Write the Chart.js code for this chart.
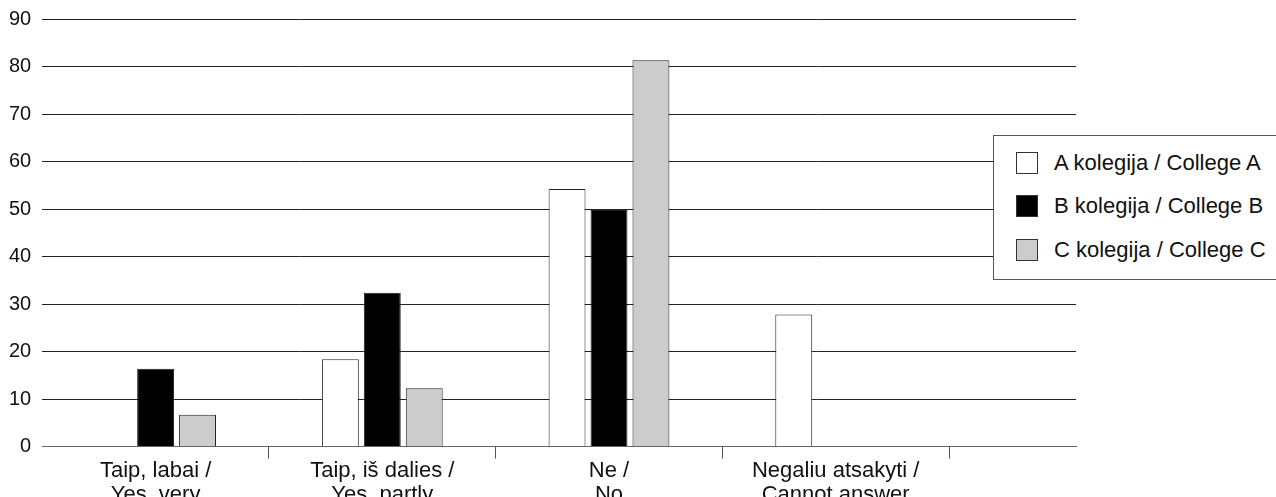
<!DOCTYPE html>
<html lang="lt">
<head>
  <meta charset="UTF-8" />
  <title>Kolegijos</title>
  <script src="https://cdn.jsdelivr.net/npm/chart.js"></script>
  <style>
    * { box-sizing: border-box; margin: 0; padding: 0; }
    body { background: #fff; width: 1276px; height: 497px; overflow: hidden; position: relative; font-family: 'Liberation Sans', Arial, sans-serif; }
    #wrap { position: absolute; left: 0; top: 0; width: 1276px; height: 507px; }
    #legend {
      position: absolute; left: 993px; top: 135px; width: 300px; height: 145px;
      background: #fff; border: 1px solid #555; padding-top: 5px;
    }
    .item { display: flex; align-items: center; height: 43.5px; padding-left: 22px; font-size: 22px; color: #111; }
    .sw { width: 22px; height: 22px; border: 1px solid #333; margin-right: 16px; }
  </style>
</head>
<body>
  <div id="wrap"><canvas id="chart"></canvas></div>
  <div id="legend"></div>

  <script>
    // duomenys (nuskaityti nuo paveikslo)
    const categories = [
      ['Taip, labai /', 'Yes, very'],
      ['Taip, iš dalies /', 'Yes, partly'],
      ['Ne /', 'No'],
      ['Negaliu atsakyti /', 'Cannot answer']
    ];
    const seriesNames = ['A kolegija / College A', 'B kolegija / College B', 'C kolegija / College C'];
    const collegeA = [0, 18.4, 54.2, 27.8];
    const collegeB = [16.4, 32.4, 49.8, 0];
    const collegeC = [6.7, 12.3, 81.3, 0];
    const yTicks = [0, 10, 20, 30, 40, 50, 60, 70, 80, 90];
    const colors = ['#ffffff', '#000000', '#cccccc'];

    const series = [collegeA, collegeB, collegeC];
    const toPoints = arr => arr.map((v, i) => ({ x: i + 0.5, y: v }));

    const ctx = document.getElementById('chart').getContext('2d');
    const chart = new Chart(ctx, {
      type: 'bar',
      data: {
        datasets: series.map((arr, i) => ({
          label: seriesNames[i],
          data: toPoints(arr),
          backgroundColor: colors[i],
          borderColor: '#222',
          borderWidth: 1,
          // ticks are every half unit, so the bar ruler is half a category wide
          categoryPercentage: 1.11,
          barPercentage: 0.88
        }))
      },
      options: {
        responsive: true,
        maintainAspectRatio: false,
        animation: false,
        layout: { padding: { top: 0, left: -2, right: 200, bottom: 0 } },
        plugins: { legend: { display: false }, tooltip: { enabled: false } },
        scales: {
          x: {
            type: 'linear',
            min: 0,
            max: 4.56,
            offset: false,
            afterBuildTicks: axis => {
              axis.ticks = [0.5, 1, 1.5, 2, 2.5, 3, 3.5, 4].map(v => ({ value: v }));
            },
            border: { display: true, color: '#666', width: 1 },
            grid: {
              offset: false,
              drawOnChartArea: false,
              drawTicks: true,
              tickLength: 12,
              tickColor: c => (c.tick && Number.isInteger(c.tick.value)) ? '#555' : 'rgba(0,0,0,0)'
            },
            ticks: {
              autoSkip: false,
              maxRotation: 0,
              padding: 0,
              color: '#111',
              font: { family: "'Liberation Sans', Arial, sans-serif", size: 22, lineHeight: 1.1 },
              callback: v => Number.isInteger(v) ? '' : categories[Math.floor(v)]
            }
          },
          y: {
            min: 0,
            max: 90,
            afterBuildTicks: axis => { axis.ticks = yTicks.map(v => ({ value: v })); },
            border: { display: false },
            grid: { color: '#222', lineWidth: 1, drawTicks: false },
            ticks: {
              padding: 11,
              color: '#111',
              font: { family: "'Liberation Sans', Arial, sans-serif", size: 20, lineHeight: 0.8 }
            }
          }
        }
      }
    });

    // legenda
    const legend = document.getElementById('legend');
    seriesNames.forEach((name, i) => {
      const row = document.createElement('div');
      row.className = 'item';
      const sw = document.createElement('span');
      sw.className = 'sw';
      sw.style.background = colors[i];
      const txt = document.createElement('span');
      txt.textContent = name;
      row.appendChild(sw);
      row.appendChild(txt);
      legend.appendChild(row);
    });
  </script>
</body>
</html>
